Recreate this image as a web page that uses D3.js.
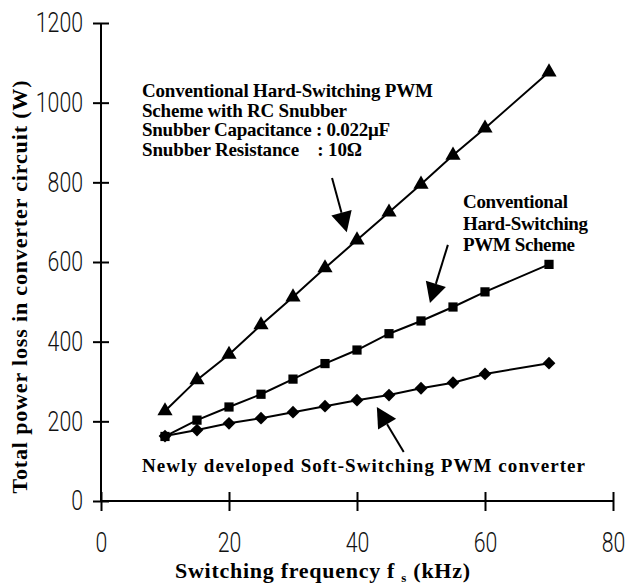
<!DOCTYPE html>
<html>
<head>
<meta charset="utf-8">
<script src="https://cdn.jsdelivr.net/npm/d3@7"></script>
<style>
  body { margin: 0; background: #fff; }
</style>
</head>
<body>
<div id="chart"></div>
<script>
// switching frequency (kHz)
var freq = [10, 15, 20, 25, 30, 35, 40, 45, 50, 55, 60, 70];
// total power loss (W)
var rcSnubber = [226, 304, 368, 442, 512, 585, 655, 725, 795, 868, 936, 1077];
var hardSwitching = [162, 203, 236, 268, 306, 345, 379, 420, 452, 487, 525, 594];
var softSwitching = [163, 178, 195, 208, 223, 238, 253, 266, 283, 297, 319, 346];

var xTicks = [0, 20, 40, 60, 80];
var yTicks = [0, 200, 400, 600, 800, 1000, 1200];

var label1 = ["Conventional Hard-Switching PWM", "Scheme with RC Snubber",
              "Snubber Capacitance : 0.022\u03bcF", "Snubber Resistance    : 10\u03a9"];
var label2 = ["Conventional", "Hard-Switching", "PWM Scheme"];
var label3 = ["Newly developed Soft-Switching PWM converter"];

var serif = "'Liberation Serif', 'Times New Roman', serif";

var margin = {top: 23, right: 14, bottom: 84, left: 101},
    width = 627 - margin.left - margin.right,
    height = 585 - margin.top - margin.bottom;

var svg = d3.select("#chart")
  .append("svg")
    .attr("width", width + margin.left + margin.right)
    .attr("height", height + margin.top + margin.bottom)
  .append("g")
    .attr("transform", "translate(" + margin.left + "," + margin.top + ")");

var x = d3.scaleLinear().domain([0, 80]).range([0, width]);
var y = d3.scaleLinear().domain([0, 1200]).range([height, 0]);

// axes, ticks cross the line
var xAxis = svg.append("g")
  .attr("transform", "translate(0," + height + ")")
  .call(d3.axisBottom(x).tickValues(xTicks).tickSize(10).tickFormat(d3.format("d")));
xAxis.selectAll(".tick line").attr("y1", -9);
var yAxis = svg.append("g")
  .call(d3.axisLeft(y).tickValues(yTicks).tickSize(8).tickFormat(d3.format("d")));
yAxis.selectAll(".tick line").attr("x1", 8);

svg.selectAll(".domain").attr("stroke-width", 2);
xAxis.select(".domain").attr("d", "M0,0H" + width);
yAxis.select(".domain").attr("d", "M0," + height + "V0");
svg.selectAll(".tick line").attr("stroke-width", 2);

// thin, narrow tick numbers
var sx = 0.76;
svg.selectAll(".tick text")
  .attr("font-family", "Roboto, 'DejaVu Sans', sans-serif")
  .attr("font-weight", 300)
  .attr("font-size", 28)
  .attr("fill", "#111")
  .attr("transform", "scale(" + sx + ",1)");
yAxis.selectAll(".tick text").attr("x", -18 / sx);
xAxis.selectAll(".tick text").attr("y", 51).attr("dy", 0);

// series
var line = d3.line()
  .x(function(d) { return x(d[0]); })
  .y(function(d) { return y(d[1]); });

var series = [
  {values: rcSnubber, shape: d3.symbolTriangle, size: 100, rot: 0},
  {values: hardSwitching, shape: d3.symbolSquare, size: 85, rot: 0},
  {values: softSwitching, shape: d3.symbolSquare, size: 82, rot: 45}
];

series.forEach(function(s) {
  var pts = freq.map(function(f, i) { return [f, s.values[i]]; });
  svg.append("path")
    .datum(pts)
    .attr("fill", "none")
    .attr("stroke", "#000")
    .attr("stroke-width", 2)
    .attr("d", line);
  svg.selectAll(null)
    .data(pts)
    .enter()
    .append("path")
      .attr("transform", function(d) {
        return "translate(" + x(d[0]) + "," + y(d[1]) + ") rotate(" + s.rot + ")";
      })
      .attr("d", d3.symbol().type(s.shape).size(s.size))
      .attr("fill", "#000");
});

// annotation arrows (data coordinates: tail -> tip)
var arrows = [
  [[36.1, 811], [38.4, 675]],
  [[54.2, 643], [51.4, 497]],
  [[47.3, 123], [43.1, 236]]
];
arrows.forEach(function(a) {
  var x0 = x(a[0][0]), y0 = y(a[0][1]), x1 = x(a[1][0]), y1 = y(a[1][1]);
  var ang = Math.atan2(y1 - y0, x1 - x0);
  var hl = 20, hw = 10.5;
  var bx = x1 - hl * Math.cos(ang), by = y1 - hl * Math.sin(ang);
  svg.append("line")
    .attr("x1", x0).attr("y1", y0).attr("x2", bx).attr("y2", by)
    .attr("stroke", "#000").attr("stroke-width", 2);
  svg.append("polygon")
    .attr("points", [
      [x1, y1],
      [bx + hw * Math.sin(ang), by - hw * Math.cos(ang)],
      [bx - hw * Math.sin(ang), by + hw * Math.cos(ang)]
    ].map(function(p) { return p.join(","); }).join(" "))
    .attr("fill", "#000");
});

// annotation text; widths as measured on the original
function block(lines, widths, x0, y0, dy) {
  svg.append("g").selectAll("text")
    .data(lines)
    .enter()
    .append("text")
      .attr("x", x0)
      .attr("y", function(d, i) { return y0 + i * dy; })
      .attr("font-family", serif)
      .attr("font-weight", "bold")
      .attr("font-size", 19)
      .attr("textLength", function(d, i) { return widths[i]; })
      .attr("lengthAdjust", "spacing")
      .style("white-space", "pre")
      .text(function(d) { return d; });
}
block(label1, [291, 205, 248, 220], 41, 74, 19.7);
block(label2, [105, 125, 112], 362, 185, 21.5);
block(label3, [443], 41, 449, 0);

// axis titles
svg.append("text")
  .attr("transform", "translate(-74," + (287 - margin.top) + ") rotate(-90)")
  .attr("text-anchor", "middle")
  .attr("font-family", serif)
  .attr("font-weight", "bold")
  .attr("font-size", 22)
  .attr("textLength", 413)
  .attr("lengthAdjust", "spacing")
  .text("Total power loss in converter circuit (W)");

var xt = svg.append("text")
  .attr("x", 175 - margin.left)
  .attr("y", height + 77)
  .attr("font-family", serif)
  .attr("font-weight", "bold")
  .attr("font-size", 22)
  .attr("textLength", 295)
  .attr("lengthAdjust", "spacing")
  .style("white-space", "pre");
xt.append("tspan").text("Switching frequency f ");
xt.append("tspan").attr("font-size", 13).attr("dy", 4).text("s");
xt.append("tspan").attr("dy", -4).text(" (kHz)");
</script>
</body>
</html>
